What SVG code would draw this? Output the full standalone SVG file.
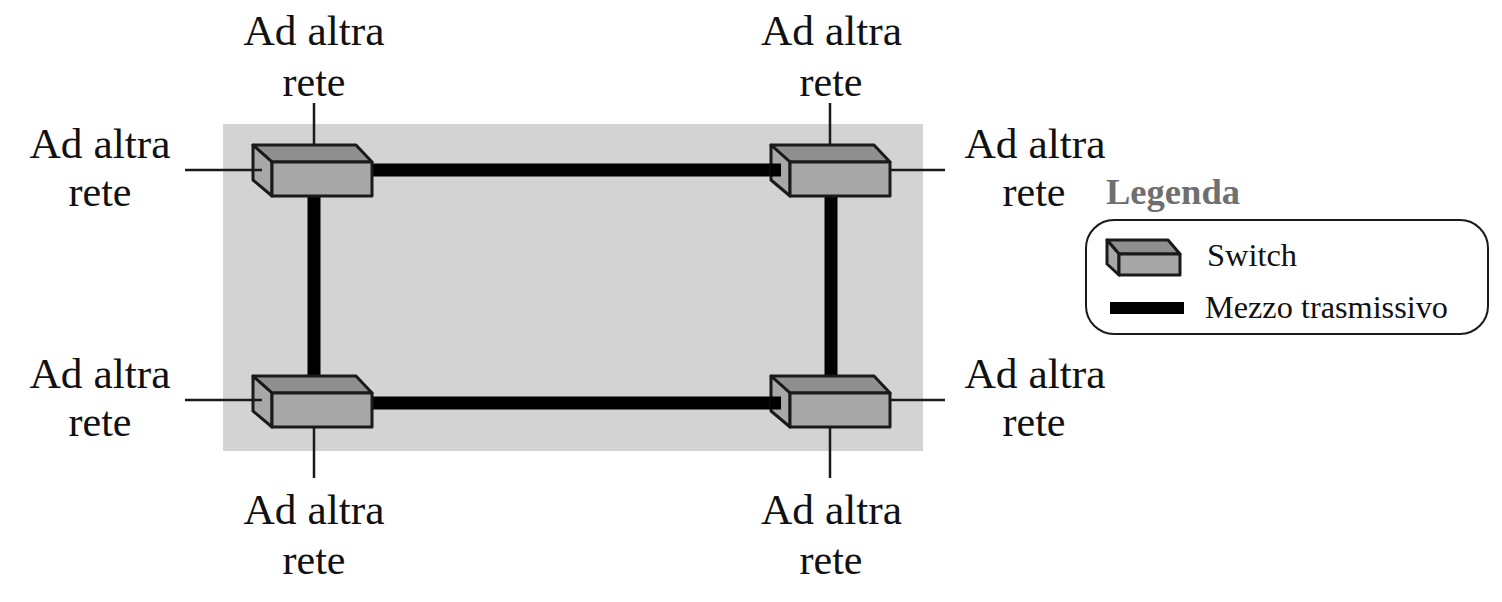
<svg xmlns="http://www.w3.org/2000/svg" width="1502" height="602" viewBox="0 0 1502 602">
<style>
.t{font-family:"Liberation Serif","Times New Roman",serif;font-size:42px;fill:#111;text-anchor:middle}
.l{font-family:"Liberation Serif","Times New Roman",serif;font-size:32px;fill:#111}
.stub{stroke:#1a1a1a;stroke-width:2.5;fill:none}
.thick{stroke:#000;stroke-width:13;fill:none}
.o{stroke:#1a1a1a;stroke-width:3;stroke-linejoin:round}
</style>
<defs>
<g id="sw">
<path class="o" fill="#8f8f8f" d="M0 0H103L119 17H19Z"/>
<path class="o" fill="#a8a8a8" d="M0 0L19 17V51L0 35Z"/>
<rect class="o" fill="#a8a8a8" x="19" y="17" width="100" height="34"/>
</g>
</defs>
<rect x="223" y="124" width="700" height="327" fill="#d3d3d3"/>
<g id="connectors">
<path class="thick" d="M372 170H781M372 403H781M314 195V376M831 195V376"/>
<path class="stub" d="M314 103V145M830 103V145M314 427V478M830 427V478M891 170H945M891 400H945"/>
</g>
<g id="switch-tl"><use href="#sw" x="253" y="145"/></g>
<g id="switch-tr"><use href="#sw" x="771" y="145"/></g>
<g id="switch-bl"><use href="#sw" x="253" y="376"/></g>
<g id="switch-br"><use href="#sw" x="771" y="376"/></g>
<g id="overlays">
<path class="stub" d="M185 170H262M185 400H262"/>
<path class="thick" d="M770 170H781M770 403H781"/>
</g>
<g id="labels">
<g><text class="t" x="314" y="45" textLength="141" lengthAdjust="spacingAndGlyphs">Ad altra</text><text class="t" x="314" y="96">rete</text></g>
<g><text class="t" x="831.5" y="45" textLength="141" lengthAdjust="spacingAndGlyphs">Ad altra</text><text class="t" x="831" y="96">rete</text></g>
<g><text class="t" x="100" y="158" textLength="141" lengthAdjust="spacingAndGlyphs">Ad altra</text><text class="t" x="100" y="206">rete</text></g>
<g><text class="t" x="1035" y="158" textLength="141" lengthAdjust="spacingAndGlyphs">Ad altra</text><text class="t" x="1034" y="206">rete</text></g>
<g><text class="t" x="100" y="388" textLength="141" lengthAdjust="spacingAndGlyphs">Ad altra</text><text class="t" x="100" y="436">rete</text></g>
<g><text class="t" x="1035" y="388" textLength="141" lengthAdjust="spacingAndGlyphs">Ad altra</text><text class="t" x="1034" y="436">rete</text></g>
<g><text class="t" x="314" y="524" textLength="141" lengthAdjust="spacingAndGlyphs">Ad altra</text><text class="t" x="314" y="574">rete</text></g>
<g><text class="t" x="831.5" y="524" textLength="141" lengthAdjust="spacingAndGlyphs">Ad altra</text><text class="t" x="831" y="574">rete</text></g>
</g>
<g id="legend">
<text x="1106" y="204" font-family="'Liberation Serif',serif" font-size="36" font-weight="bold" fill="#6f6f6f" textLength="134" lengthAdjust="spacingAndGlyphs">Legenda</text>
<rect x="1086" y="220" width="402" height="114" rx="28" ry="28" fill="#fff" stroke="#1a1a1a" stroke-width="2"/>
<g class="o">
<path fill="#8f8f8f" d="M1107 240H1168L1180 254H1119Z"/>
<path fill="#a8a8a8" d="M1107 240L1119 254V275L1107 264Z"/>
<rect fill="#a6a6a6" x="1119" y="254" width="61" height="21"/>
</g>
<text class="l" x="1207" y="266" textLength="90" lengthAdjust="spacingAndGlyphs">Switch</text>
<rect x="1110" y="302" width="74" height="12" fill="#000"/>
<text class="l" x="1205" y="318" textLength="243" lengthAdjust="spacingAndGlyphs">Mezzo trasmissivo</text>
</g>
</svg>
